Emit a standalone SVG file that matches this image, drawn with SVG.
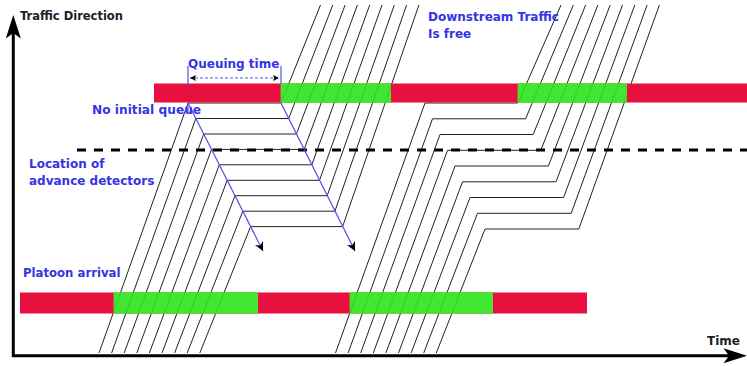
<svg xmlns="http://www.w3.org/2000/svg" width="747" height="366" viewBox="0 0 747 366">
<style>
.lbl{font-family:"DejaVu Sans",Verdana,sans-serif;font-weight:bold;fill:#3434e4}
.dark{font-family:"DejaVu Sans",Verdana,sans-serif;font-weight:bold;fill:#1c1c2c}
.red{fill:#e8103f}
.green{fill:#2de41c;stroke:#62cc2c;stroke-width:1;opacity:0.9}
.veh{fill:none;stroke:#222;stroke-width:1}
.shock{fill:none;stroke:#5050f0;stroke-width:1.2}
.axis{stroke:#000;stroke-width:3;fill:none}
</style>
<defs>
<marker id="ah" viewBox="0 0 10 10" refX="10" refY="5" markerWidth="11" markerHeight="9" orient="auto" markerUnits="userSpaceOnUse">
<path d="M0,0 L10,5 L0,10 L3,5 z" fill="#000"/>
</marker>
<marker id="sm" viewBox="0 0 10 10" refX="10" refY="5" markerWidth="8" markerHeight="6" orient="auto-start-reverse" markerUnits="userSpaceOnUse">
<path d="M0,0 L10,5 L0,10 L2,5 z" fill="#000"/>
</marker>
</defs>

<g id="connectors">
<!-- platoon 1 -->
<path class="veh" d="M99,353 L188,103 L281,103 L320.5,5"/>
<path class="veh" d="M111.6,353 L195.8,118.5 L288.7,118.5 L332.8,5"/>
<path class="veh" d="M124.2,353 L203.7,134 L296.4,134 L345.1,5"/>
<path class="veh" d="M136.8,353 L211.5,149.4 L304.1,149.4 L357.4,5"/>
<path class="veh" d="M149.4,353 L219.3,164.8 L311.8,164.8 L369.7,5"/>
<path class="veh" d="M162,353 L227.2,180.3 L319.5,180.3 L382,5"/>
<path class="veh" d="M174.6,353 L235,195.7 L327.2,195.7 L394.3,5"/>
<path class="veh" d="M187.2,353 L242.8,211.2 L334.9,211.2 L406.6,5"/>
<path class="veh" d="M199.8,353 L250.6,226.6 L342.6,226.6 L418.9,5"/>
<!-- platoon 2 -->
<path class="veh" d="M335.5,353 L425,103 L518,103 L561,5"/>
<path class="veh" d="M348.1,353 L432.5,118.8 L525.6,118.8 L573.3,5"/>
<path class="veh" d="M360.7,353 L440,134.5 L533.2,134.5 L585.6,5"/>
<path class="veh" d="M373.3,353 L447.5,150.3 L540.8,150.3 L597.9,5"/>
<path class="veh" d="M385.9,353 L455,166 L548.4,166 L610.2,5"/>
<path class="veh" d="M398.5,353 L462.5,181.8 L556,181.8 L622.5,5"/>
<path class="veh" d="M411.1,353 L470,197.5 L563.6,197.5 L634.8,5"/>
<path class="veh" d="M423.7,353 L477.5,213.3 L571.2,213.3 L647.1,5"/>
<path class="veh" d="M436.3,353 L485,229 L578.8,229 L659.4,5"/>
</g>

<g id="signal-top">
<rect class="red" x="154" y="83.5" width="127" height="19"/>
<rect class="green" x="281" y="83.5" width="110" height="19"/>
<rect class="red" x="391" y="83.5" width="127" height="19"/>
<rect class="green" x="518" y="83.5" width="109" height="19"/>
<rect class="red" x="627" y="83.5" width="120" height="19"/>
</g>
<g id="signal-bottom">
<rect class="red" x="20" y="292.5" width="94" height="21"/>
<rect class="green" x="114" y="292.5" width="144" height="21"/>
<rect class="red" x="258" y="292.5" width="92" height="21"/>
<rect class="green" x="350" y="292.5" width="143" height="21"/>
<rect class="red" x="493" y="292.5" width="94" height="21"/>
</g>

<g id="detector-line">
<line x1="77" y1="150" x2="747" y2="150" stroke="#000" stroke-width="3" stroke-dasharray="9 8"/>
</g>

<g id="shockwaves">
<path class="shock" d="M188,103 L188,112"/>
<path class="shock" d="M188,103 L263,251" marker-end="url(#ah)"/>
<path class="shock" d="M281,103 L355,251" marker-end="url(#ah)"/>
</g>

<g id="queuing-time">
<line class="shock" x1="188" y1="66" x2="188" y2="86"/>
<line class="shock" x1="281" y1="66" x2="281" y2="84"/>
<line x1="190" y1="78" x2="279" y2="78" stroke="#5050f0" stroke-width="1.2" stroke-dasharray="3 2" marker-start="url(#sm)" marker-end="url(#sm)"/>
<text class="lbl" x="188" y="67.5" font-size="12">Queuing time</text>
</g>

<g id="axes">
<line class="axis" x1="13.3" y1="357" x2="13.3" y2="32"/>
<polygon points="13.3,15 20.8,38.5 13.3,33 5.8,38.5" fill="#000"/>
<line class="axis" x1="12" y1="355.8" x2="730" y2="355.8"/>
<polygon points="747,355.8 723.5,348.3 729,355.8 723.5,363.3" fill="#000"/>
<text class="dark" x="20" y="20" font-size="11.5">Traffic Direction</text>
<text class="dark" x="707" y="345" font-size="12">Time</text>
</g>

<g id="labels">
<text class="lbl" x="92" y="114" font-size="12.2">No initial queue</text>
<text class="lbl" x="29" y="167.5" font-size="12">Location of</text>
<text class="lbl" x="29" y="185" font-size="12">advance detectors</text>
<text class="lbl" x="23" y="276.5" font-size="11.7">Platoon arrival</text>
<text class="lbl" x="428" y="21" font-size="12">Downstream Traffic</text>
<text class="lbl" x="428" y="38.3" font-size="12">Is free</text>
</g>
</svg>
